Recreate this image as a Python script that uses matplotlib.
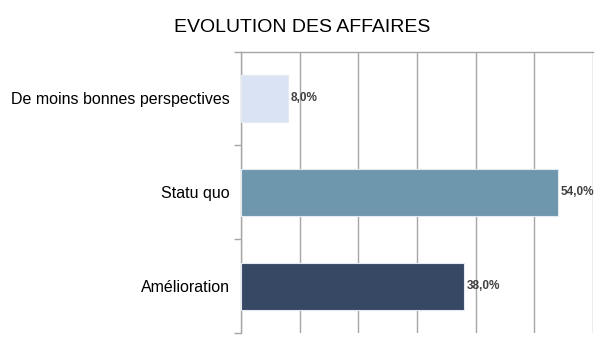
import numpy as np
import matplotlib.pyplot as plt

plt.rcParams['font.family'] = ['Liberation Sans', 'DejaVu Sans']

# categories from top to bottom
categories = ["De moins bonnes perspectives", "Statu quo", "Amélioration"]
values = [8.0, 54.0, 38.0]
colors = ["#DAE3F3", "#6E96AD", "#374864"]

fig = plt.figure(figsize=(6.05, 3.4), dpi=100)
ax = fig.add_axes([241/605, 1 - 333/340, (593 - 241)/605, (333 - 51.5)/340])

y = np.arange(len(categories))[::-1]
ax.barh(y, values, height=0.5, color=colors, edgecolor="#E4EAF2", linewidth=0.8, zorder=3)

for yi, v in zip(y, values):
    ax.text(v + 0.5, yi, ("%.1f%%" % v).replace(".", ","), va="center", ha="left",
            fontsize=8.5, fontweight="bold", color="#404040", zorder=4)

ax.set_xlim(0, 60)
ax.set_ylim(-0.5, 2.5)
ax.set_xticks(np.arange(0, 61, 10))
ax.xaxis.grid(True, color="#A6A6A6", linewidth=1.0, zorder=0)
ax.tick_params(axis="x", length=0, labelbottom=False)

# category labels between tick marks
ax.set_yticks([-0.5, 0.5, 1.5, 2.5])
ax.set_yticklabels([])
ax.set_yticks(y, minor=True)
ax.set_yticklabels(categories, minor=True, fontsize=11.5, color="black")
ax.tick_params(axis="y", which="major", length=5, color="#A6A6A6", width=1.0)
ax.tick_params(axis="y", which="minor", length=0, pad=8)

for s in ["right", "bottom"]:
    ax.spines[s].set_visible(False)
for s in ["left", "top"]:
    ax.spines[s].set_color("#A6A6A6")
    ax.spines[s].set_linewidth(1.0)

fig.text(0.5, 1 - 28/340, "EVOLUTION DES AFFAIRES", ha="center", va="center", fontsize=14)

plt.savefig("out.png", dpi=100)
